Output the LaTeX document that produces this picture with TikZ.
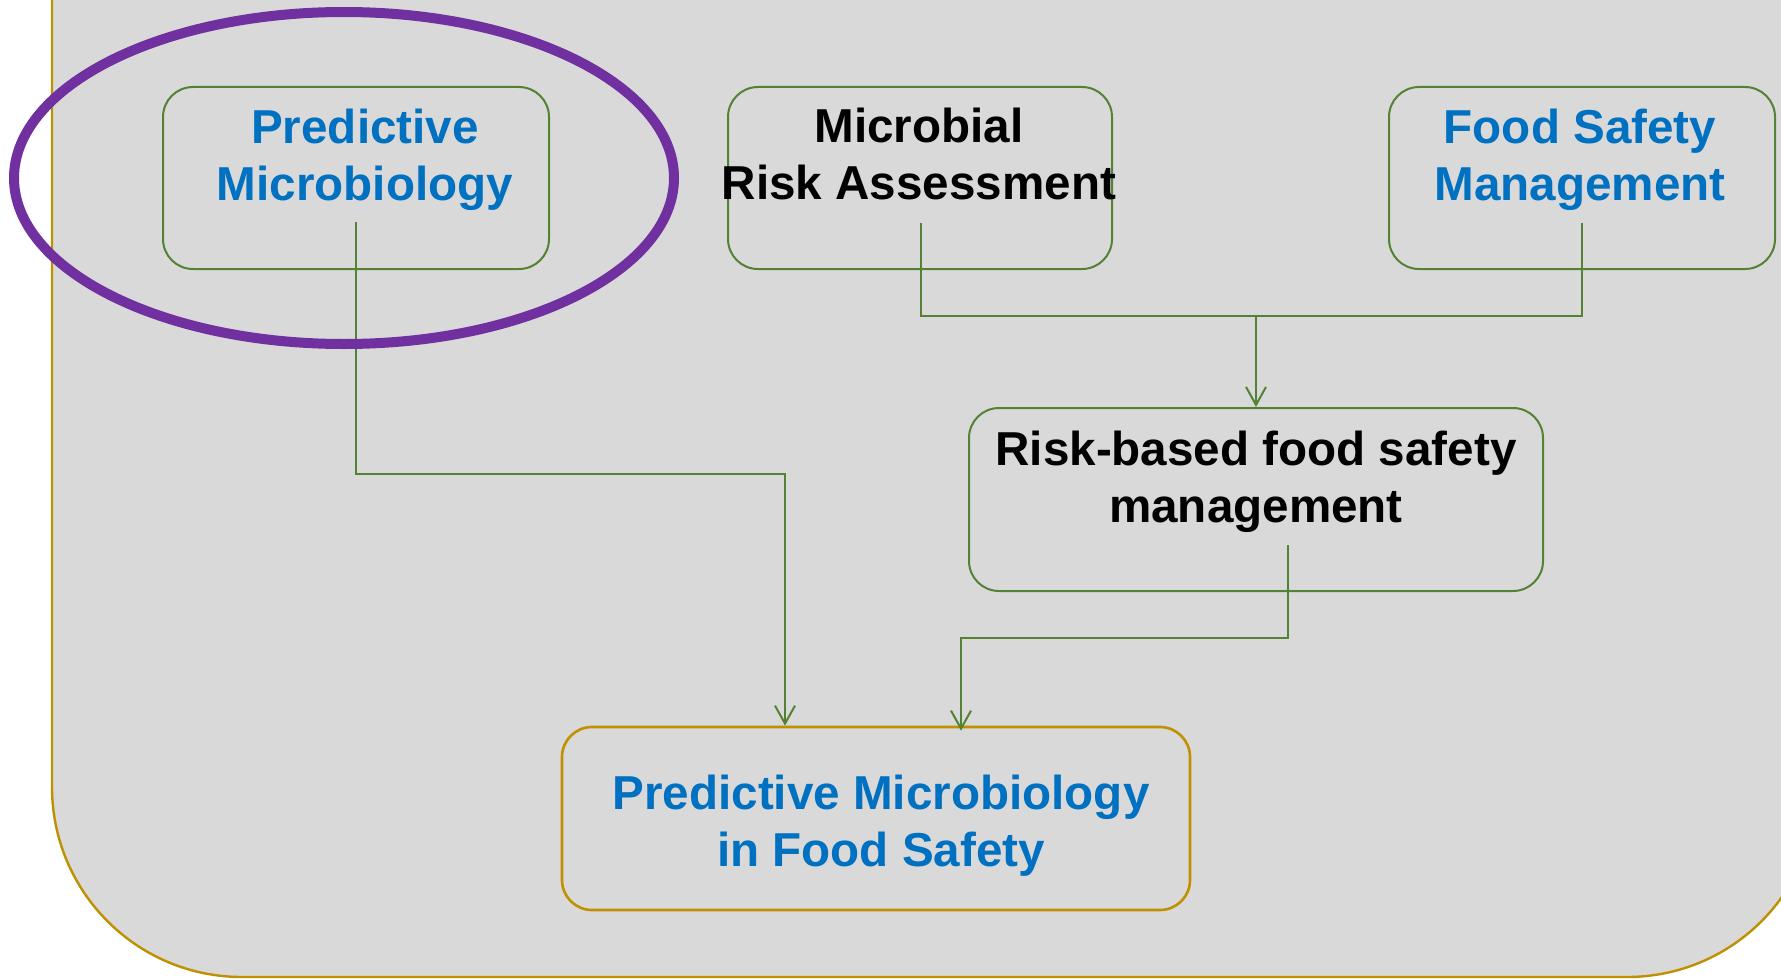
\documentclass[tikz,border=0pt]{standalone}
\usepackage{fontspec}
\setmainfont{Liberation Sans}
\usetikzlibrary{arrows.meta,calc}
\definecolor{bggray}{HTML}{D9D9D9}
\definecolor{gold}{HTML}{BF9000}
\definecolor{lgreen}{HTML}{548235}
\definecolor{tblue}{HTML}{0070C0}
\definecolor{purp}{HTML}{7030A0}
\tikzset{
  box/.style={draw=lgreen, line width=1pt, rounded corners=15pt, rectangle, minimum height=91pt, inner sep=0pt},
  goldbox/.style={draw=gold, line width=1.3pt, rounded corners=15pt, rectangle, minimum height=91.5pt, inner sep=0pt},
  lbl/.style={font=\bfseries\fontsize{23.8}{28.5}\selectfont, align=center, inner sep=0pt},
  conn/.style={draw=lgreen, line width=1.25pt},
  arr/.style={conn, -{Straight Barb[length=9pt,width=10pt,line width=1pt]}}
}
\begin{document}
\begin{tikzpicture}[x=0.5pt,y=-0.5pt]
\useasboundingbox (0,0) rectangle (1781,979);
% background panel
\fill[bggray] (52,-20) -- (52,787) arc[start angle=180,end angle=270,radius=95pt] -- (1627,977) arc[start angle=270,end angle=360,radius=95pt] -- (1817,-20) -- cycle;
\draw[gold, line width=1.2pt] (52,-20) -- (52,787) arc[start angle=180,end angle=270,radius=95pt] -- (1627,977) arc[start angle=270,end angle=360,radius=95pt] -- (1817,-20);
% boxes
\node[box, minimum width=193pt] (pm) at (356,178) {};
\node[box, minimum width=192pt] (mra) at (920,178) {};
\node[box, minimum width=193pt] (fsm) at (1582,178) {};
\node[box, minimum width=287pt, minimum height=91.5pt] (rb) at (1256,499.5) {};
\node[goldbox, minimum width=314pt] (pmfs) at (876,818.5) {};
% texts
\node[lbl, text=tblue] (pmt) at (365,161) {\strut Predictive\\\strut Microbiology};
\node[lbl, text=black] (mrat) at (919,160) {\strut Microbial\\\strut Risk Assessment};
\node[lbl, text=tblue] (fsmt) at (1580,161) {\strut Food Safety\\\strut Management};
\node[lbl, text=black] (rbt) at (1256,483) {\strut Risk-based food safety\\\strut management};
\node[lbl, text=tblue] (pmfst) at (881,827) {\strut Predictive Microbiology\\\strut in Food Safety};
% connector start points
\coordinate (pmout) at (356,222);
\coordinate (mraout) at (921,223);
\coordinate (fsmout) at (1582,223);
\coordinate (rbout) at (1288,545);
\coordinate (join) at (1256,316);
% connectors
\draw[arr] (pmout) -- (356,474) -- (785,474) -- (785,0 |- pmfs.north);
\draw[conn] (mraout) -- (921,316) -- (1582,316) -- (fsmout);
\draw[arr] (join) -- (rb.north);
\draw[arr] (rbout) -- (1288,638) -- (961,638) -- ($(961,0 |- pmfs.north)+(0,5)$);
% highlight ellipse
\draw[purp, line width=5pt] (344,178) ellipse[x radius=330, y radius=166];
\end{tikzpicture}
\end{document}
